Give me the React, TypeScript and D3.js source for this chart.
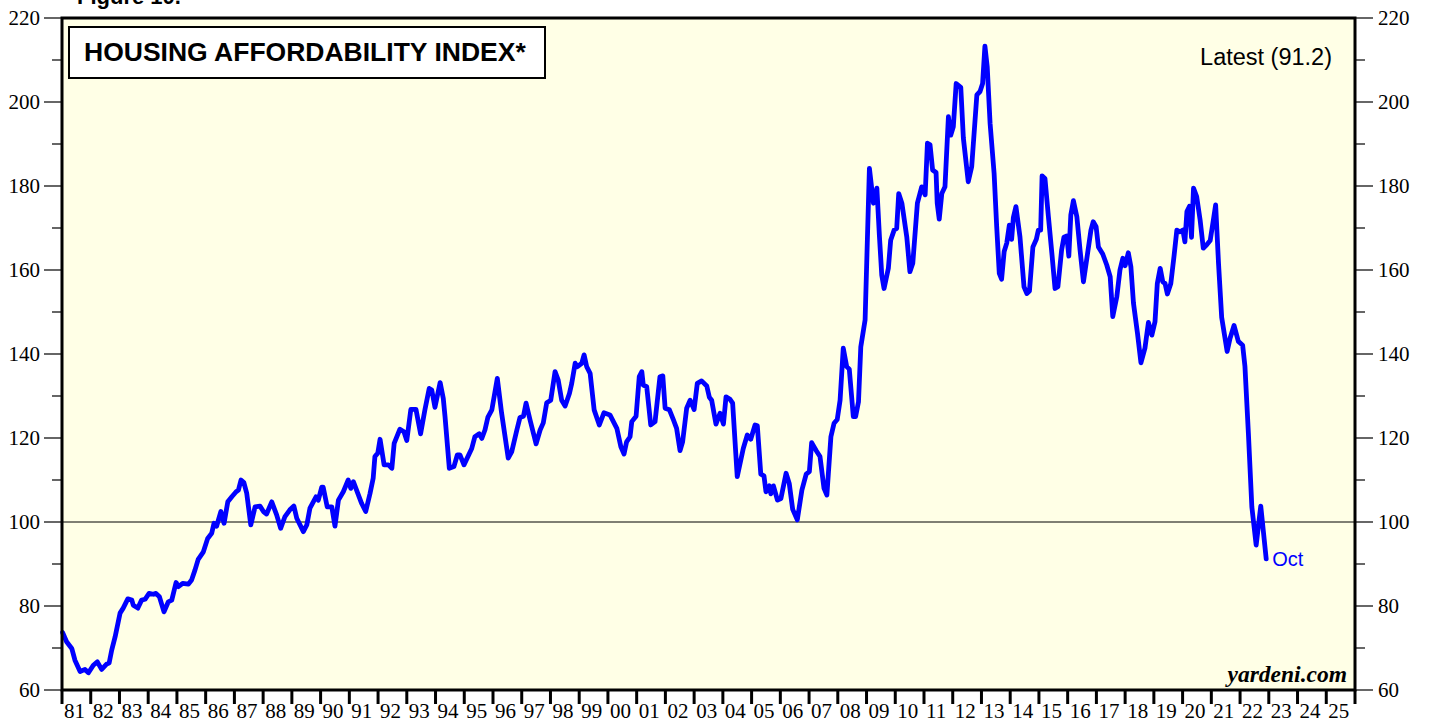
import React from "react";
import * as d3 from "d3";

const dates: number[] = [
  1981.02, 1981.16, 1981.34, 1981.45, 1981.63, 1981.80, 1981.92, 1982.09, 1982.23, 1982.38,
  1982.56, 1982.64, 1982.73, 1982.85, 1983.02, 1983.13, 1983.29, 1983.43, 1983.48, 1983.64,
  1983.77, 1983.89, 1984.03, 1984.18, 1984.27, 1984.39, 1984.55, 1984.70, 1984.82, 1984.97,
  1985.05, 1985.20, 1985.40, 1985.51, 1985.63, 1985.74, 1985.92, 1986.07, 1986.21, 1986.29,
  1986.38, 1986.53, 1986.64, 1986.77, 1986.91, 1987.06, 1987.14, 1987.23, 1987.33, 1987.43,
  1987.57, 1987.72, 1987.89, 1988.01, 1988.12, 1988.30, 1988.47, 1988.61, 1988.76, 1988.93,
  1989.07, 1989.17, 1989.40, 1989.52, 1989.63, 1989.84, 1989.92, 1990.04, 1990.09, 1990.23,
  1990.39, 1990.50, 1990.62, 1990.79, 1990.96, 1991.05, 1991.14, 1991.43, 1991.57, 1991.72,
  1991.83, 1991.89, 1991.99, 1992.07, 1992.21, 1992.36, 1992.48, 1992.56, 1992.76, 1992.90,
  1993.00, 1993.14, 1993.32, 1993.48, 1993.63, 1993.78, 1993.87, 1993.98, 1994.16, 1994.27,
  1994.33, 1994.48, 1994.64, 1994.76, 1994.85, 1994.99, 1995.26, 1995.37, 1995.52, 1995.61,
  1995.72, 1995.82, 1995.96, 1996.15, 1996.30, 1996.53, 1996.65, 1996.83, 1996.94, 1997.06,
  1997.15, 1997.29, 1997.50, 1997.64, 1997.75, 1997.87, 1998.01, 1998.16, 1998.27, 1998.39,
  1998.51, 1998.66, 1998.74, 1998.86, 1998.94, 1999.09, 1999.17, 1999.26, 1999.38, 1999.52,
  1999.70, 1999.86, 2000.07, 2000.31, 2000.45, 2000.56, 2000.65, 2000.77, 2000.83, 2000.98,
  2001.09, 2001.18, 2001.23, 2001.35, 2001.49, 2001.64, 2001.81, 2001.91, 2001.99, 2002.14,
  2002.28, 2002.39, 2002.51, 2002.60, 2002.74, 2002.86, 2003.00, 2003.11, 2003.26, 2003.44,
  2003.53, 2003.61, 2003.76, 2003.90, 2004.02, 2004.11, 2004.25, 2004.34, 2004.50, 2004.71,
  2004.85, 2004.97, 2005.12, 2005.20, 2005.32, 2005.43, 2005.50, 2005.62, 2005.67, 2005.76,
  2005.90, 2006.02, 2006.20, 2006.31, 2006.43, 2006.59, 2006.75, 2006.90, 2007.01, 2007.09,
  2007.24, 2007.38, 2007.52, 2007.62, 2007.76, 2007.87, 2007.98, 2008.08, 2008.19, 2008.31,
  2008.40, 2008.54, 2008.62, 2008.72, 2008.80, 2008.95, 2009.10, 2009.24, 2009.36, 2009.45,
  2009.53, 2009.61, 2009.76, 2009.84, 2009.96, 2010.05, 2010.12, 2010.23, 2010.40, 2010.51,
  2010.61, 2010.77, 2010.92, 2011.04, 2011.12, 2011.21, 2011.30, 2011.42, 2011.46, 2011.53,
  2011.62, 2011.73, 2011.85, 2011.93, 2012.02, 2012.12, 2012.28, 2012.37, 2012.54, 2012.66,
  2012.84, 2012.95, 2013.04, 2013.12, 2013.20, 2013.30, 2013.44, 2013.53, 2013.62, 2013.70,
  2013.79, 2013.88, 2013.97, 2014.05, 2014.11, 2014.20, 2014.34, 2014.48, 2014.58, 2014.67,
  2014.79, 2014.91, 2014.98, 2015.06, 2015.11, 2015.21, 2015.33, 2015.45, 2015.56, 2015.66,
  2015.79, 2015.87, 2015.97, 2016.04, 2016.11, 2016.20, 2016.32, 2016.43, 2016.55, 2016.66,
  2016.81, 2016.89, 2016.99, 2017.07, 2017.22, 2017.36, 2017.48, 2017.57, 2017.71, 2017.82,
  2017.92, 2018.00, 2018.11, 2018.20, 2018.29, 2018.43, 2018.55, 2018.69, 2018.81, 2018.93,
  2019.04, 2019.12, 2019.22, 2019.31, 2019.39, 2019.47, 2019.59, 2019.70, 2019.80, 2019.91,
  2020.01, 2020.08, 2020.15, 2020.24, 2020.31, 2020.38, 2020.49, 2020.61, 2020.72, 2020.84,
  2020.96, 2021.07, 2021.15, 2021.25, 2021.36, 2021.55, 2021.65, 2021.79, 2021.94, 2022.09,
  2022.17, 2022.29, 2022.41, 2022.56, 2022.72, 2022.91,
];

const values: number[] = [
  73.7, 71.5, 69.9, 67.1, 64.4, 64.9, 64.1, 65.9, 66.7, 64.9,
  66.2, 66.4, 69.5, 72.7, 78.3, 79.5, 81.7, 81.4, 80.2, 79.5,
  81.4, 81.6, 83.0, 82.8, 83.0, 82.2, 78.6, 81.0, 81.4, 85.6,
  84.6, 85.4, 85.2, 86.2, 88.6, 91.1, 92.9, 96.1, 97.3, 99.7,
  99.0, 102.5, 99.7, 104.8, 106.0, 107.2, 107.6, 110.0, 109.4, 106.8,
  99.3, 103.6, 103.8, 102.5, 101.9, 104.8, 101.7, 98.5, 101.3, 102.9,
  103.8, 100.9, 97.7, 99.3, 103.3, 106.0, 105.2, 108.3, 108.3, 103.6,
  103.6, 99.0, 105.2, 107.2, 110.0, 108.0, 109.6, 104.4, 102.5, 106.8,
  110.4, 115.6, 116.4, 119.7, 113.6, 113.6, 112.8, 118.7, 122.1, 121.5,
  119.4, 126.8, 126.8, 121.0, 126.7, 131.8, 131.4, 127.3, 133.2, 129.4,
  125.1, 112.8, 113.2, 116.0, 116.0, 113.6, 117.5, 120.3, 121.0, 119.9,
  121.9, 124.9, 126.7, 134.2, 125.9, 115.2, 116.7, 121.9, 124.9, 125.2,
  128.3, 124.3, 118.6, 121.9, 123.6, 128.4, 129.0, 135.8, 133.8, 129.0,
  127.6, 130.6, 133.0, 137.8, 137.0, 137.8, 139.8, 137.0, 135.4, 126.7,
  123.1, 126.0, 125.5, 122.3, 117.9, 116.2, 119.1, 120.3, 123.9, 125.2,
  134.6, 135.8, 132.6, 132.2, 123.1, 123.9, 134.6, 134.8, 127.1, 126.7,
  124.3, 122.3, 117.0, 119.1, 127.1, 129.0, 126.8, 133.0, 133.6, 132.4,
  129.7, 129.0, 123.3, 125.9, 123.3, 129.8, 129.2, 128.3, 110.8, 117.5,
  120.7, 119.7, 123.1, 122.9, 111.4, 111.0, 107.2, 108.6, 106.7, 108.6,
  105.2, 105.6, 111.6, 109.2, 103.0, 100.5, 107.6, 111.4, 112.0, 118.9,
  117.1, 115.6, 108.0, 106.4, 120.3, 123.5, 124.4, 129.0, 141.4, 137.0,
  136.4, 125.1, 125.1, 128.6, 141.7, 148.1, 184.2, 175.9, 179.5, 167.9,
  158.8, 155.6, 160.4, 167.1, 169.5, 169.9, 178.2, 175.9, 167.9, 159.6,
  161.6, 175.9, 179.8, 177.9, 190.2, 189.8, 183.8, 183.2, 175.9, 172.1,
  178.2, 179.8, 196.5, 192.1, 194.1, 204.4, 203.5, 191.4, 181.0, 184.6,
  201.7, 202.5, 204.4, 213.3, 208.4, 194.9, 183.0, 170.3, 159.2, 157.8,
  164.4, 166.4, 170.7, 167.3, 172.5, 175.1, 167.9, 156.0, 154.4, 155.0,
  165.5, 167.3, 169.5, 169.5, 182.4, 181.8, 172.7, 164.0, 155.6, 156.0,
  164.8, 167.8, 168.1, 163.3, 173.1, 176.5, 172.7, 164.8, 157.2, 162.4,
  169.5, 171.5, 170.3, 165.5, 163.8, 161.2, 158.4, 148.9, 153.6, 160.0,
  162.8, 161.0, 164.1, 160.8, 152.1, 144.9, 137.9, 141.4, 147.5, 144.5,
  147.7, 156.8, 160.4, 157.2, 156.8, 154.3, 156.8, 163.2, 169.5, 169.1,
  169.5, 166.7, 173.9, 175.2, 167.8, 179.5, 177.5, 171.9, 165.2, 166.0,
  167.0, 171.9, 175.5, 161.6, 148.7, 140.6, 143.7, 146.8, 143.0, 142.1,
  137.0, 121.1, 103.6, 94.5, 103.8, 91.2,
];

const yearTicks: number[] = d3.range(1981, 2026);
const yearLabels: string[] = [
  "81", "82", "83", "84", "85", "86", "87", "88", "89", "90",
  "91", "92", "93", "94", "95", "96", "97", "98", "99", "00",
  "01", "02", "03", "04", "05", "06", "07", "08", "09", "10",
  "11", "12", "13", "14", "15", "16", "17", "18", "19", "20",
  "21", "22", "23", "24", "25",
];
const yMajorTicks: number[] = [60, 80, 100, 120, 140, 160, 180, 200, 220];
const yMinorTicks: number[] = [70, 90, 110, 130, 150, 170, 190, 210];

const W = 1429;
const H = 721;
const M = { left: 62, right: 1355, top: 18, bottom: 690 };

export default function App() {
  const x = d3.scaleLinear().domain([1981, 2026]).range([M.left, M.right]);
  const y = d3.scaleLinear().domain([60, 220]).range([M.bottom, M.top]);
  const pts: [number, number][] = dates.map((d, i) => [d, values[i]]);
  const line = d3
    .line<[number, number]>()
    .x((d) => x(d[0]))
    .y((d) => y(d[1]));
  const last = pts[pts.length - 1];
  const serif = "'Liberation Serif', 'Times New Roman', serif";
  const sans = "'Liberation Sans', Arial, sans-serif";

  return (
    <div style={{ position: "fixed", left: 0, top: 0 }}>
      <svg width={W} height={H} style={{ display: "block" }}>
        <rect x={0} y={0} width={W} height={H} fill="#ffffff" />
        <text x={77} y={4} fontFamily={sans} fontWeight="bold" fontSize={22} fill="#000">
          Figure 10.
        </text>
        <rect
          x={M.left}
          y={M.top}
          width={M.right - M.left}
          height={M.bottom - M.top}
          fill="#ffffe6"
        />
        <line x1={M.left} x2={M.right} y1={y(100)} y2={y(100)} stroke="#000" strokeWidth={1} />
        <path
          d={line(pts) || ""}
          fill="none"
          stroke="#0000ff"
          strokeWidth={4.8}
          strokeLinejoin="round"
          strokeLinecap="round"
        />
        <rect
          x={M.left}
          y={M.top}
          width={M.right - M.left}
          height={M.bottom - M.top}
          fill="none"
          stroke="#000"
          strokeWidth={3}
        />
        {yMajorTicks.map((t) => (
          <g key={"ym" + t}>
            <line x1={44} x2={M.left} y1={y(t)} y2={y(t)} stroke="#000" strokeWidth={1.2} />
            <line x1={M.right} x2={1373} y1={y(t)} y2={y(t)} stroke="#000" strokeWidth={1.2} />
            <text x={40} y={y(t)} dy="0.35em" textAnchor="end" fontFamily={serif} fontSize={21} fill="#000">
              {t}
            </text>
            <text x={1378} y={y(t)} dy="0.35em" textAnchor="start" fontFamily={serif} fontSize={21} fill="#000">
              {t}
            </text>
          </g>
        ))}
        {yMinorTicks.map((t) => (
          <g key={"yn" + t}>
            <line x1={52} x2={M.left} y1={y(t)} y2={y(t)} stroke="#000" strokeWidth={1.2} />
            <line x1={M.right} x2={1365} y1={y(t)} y2={y(t)} stroke="#000" strokeWidth={1.2} />
          </g>
        ))}
        {yearTicks.map((yr, i) => (
          <g key={"x" + yr}>
            <line x1={x(yr)} x2={x(yr)} y1={M.bottom} y2={704} stroke="#000" strokeWidth={3} />
            <text x={x(yr) + 2} y={718} fontFamily={serif} fontSize={21} fill="#000">
              {yearLabels[i]}
            </text>
          </g>
        ))}
        <line x1={M.right} x2={M.right} y1={M.bottom} y2={704} stroke="#000" strokeWidth={3} />
        <rect x={69} y={27} width={476} height={51} fill="#ffffff" stroke="#000" strokeWidth={2} />
        <text x={84} y={61} fontFamily={sans} fontWeight="bold" fontSize={26.5} fill="#000">
          HOUSING AFFORDABILITY INDEX*
        </text>
        <text x={1332} y={65} textAnchor="end" fontFamily={sans} fontSize={23.5} fill="#000">
          Latest (91.2)
        </text>
        <text x={x(last[0]) + 6} y={y(last[1]) + 7} fontFamily={sans} fontSize={20} fill="#0000ff">
          Oct
        </text>
        <text
          x={1347}
          y={682}
          textAnchor="end"
          fontFamily={serif}
          fontWeight="bold"
          fontStyle="italic"
          fontSize={23.5}
          fill="#000"
        >
          yardeni.com
        </text>
      </svg>
    </div>
  );
}
